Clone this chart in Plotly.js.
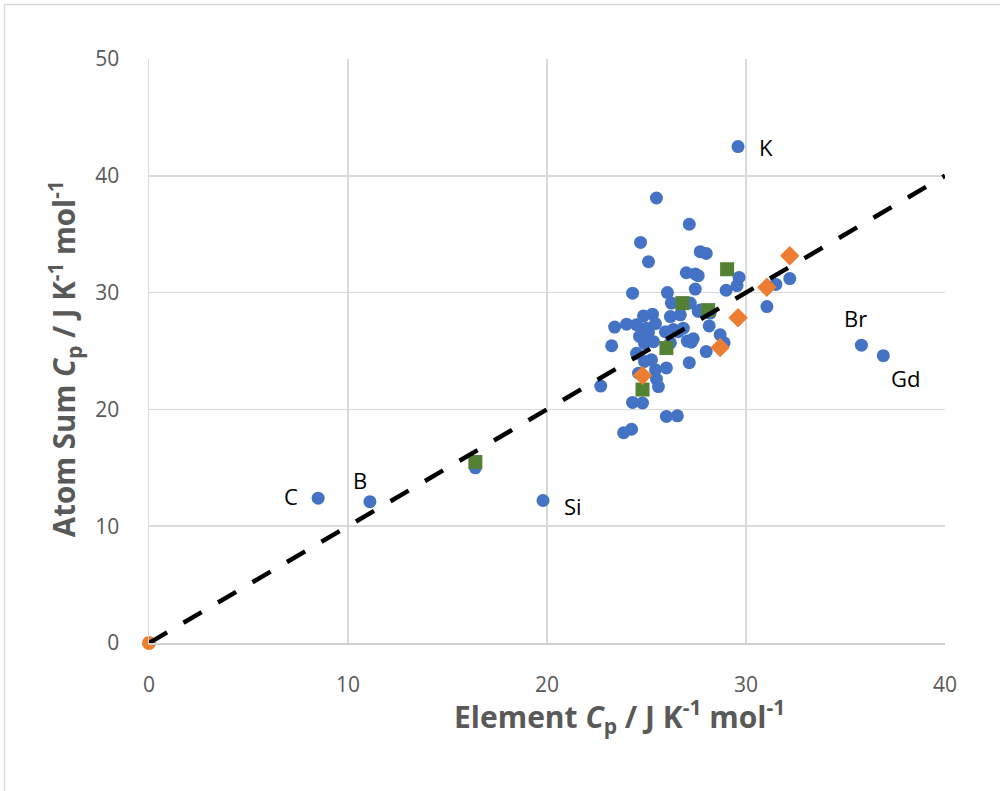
<!DOCTYPE html>
<html>
<head>
<meta charset="utf-8">
<script src="https://cdn.plot.ly/plotly-3.0.1.min.js"></script>
<style>
html,body{margin:0;padding:0;background:#fff;overflow:hidden;}
#chart{width:1000px;height:791px;}
</style>
</head>
<body>
<div id="chart"></div>
<script>
// Blue series: elements (x = element Cp, y = atom-sum Cp)
const blueX = [8.5, 11.1, 16.4, 19.8, 29.6, 35.8, 36.9, 32.2, 31.5, 31.05, 29.65, 29.55, 29.0, 28.0, 27.7, 27.15, 25.5, 24.7, 25.1,
  27.0, 27.45, 27.6, 27.45, 24.3, 26.05, 26.25, 27.2, 26.7, 27.6, 28.2, 27.7, 28.15, 28.7, 28.9, 28.0, 27.25, 27.15, 27.05, 27.35,
  26.85, 26.35, 25.95, 26.2, 26.2, 25.3, 24.85, 25.45, 25.0, 24.5, 24.0, 23.4, 23.25, 24.65, 24.9, 25.35, 24.5, 25.25, 24.9, 25.45,
  26.0, 24.6, 25.5, 25.6, 22.7, 24.3, 24.8, 26.0, 26.55, 23.85, 24.25, 25.1, 26.6];
const blueY = [12.4, 12.1, 15.0, 12.2, 42.5, 25.5, 24.6, 31.2, 30.7, 28.8, 31.3, 30.6, 30.2, 33.35, 33.5, 35.85, 38.1, 34.3, 32.65,
  31.7, 31.6, 31.45, 30.3, 29.95, 30.0, 29.1, 29.1, 28.1, 28.4, 28.25, 28.5, 27.15, 26.4, 25.7, 24.95, 25.75, 24.0, 25.85, 26.05,
  26.95, 26.85, 26.65, 25.7, 27.95, 28.15, 28.0, 27.35, 26.95, 27.25, 27.3, 27.05, 25.45, 26.25, 25.65, 25.8, 24.8, 24.25, 24.1, 23.4,
  23.55, 23.1, 22.6, 21.95, 22.0, 20.6, 20.55, 19.4, 19.45, 18.0, 18.3, 26.6, 26.65];
const blueLabels = ['C', 'B', '', 'Si', 'K', 'Br', 'Gd'];

// Green series
const greenX = [16.4, 29.05, 26.8, 28.1, 26.0, 24.8];
const greenY = [15.5, 32.0, 29.1, 28.5, 25.25, 21.7];

// Orange diamond series
const orangeX = [32.2, 31.05, 29.6, 28.7, 24.8];
const orangeY = [33.15, 30.45, 27.85, 25.3, 22.9];

// Orange origin point
const originX = [0];
const originY = [0];

// Parity line
const lineX = [0, 40];
const lineY = [0, 40];

const xTicks = [0, 10, 20, 30, 40];
const yTicks = [0, 10, 20, 30, 40, 50];

const FONT = 'Open Sans, Noto Sans, sans-serif';

// label offsets (px) relative to their points
const labelStyle = {
  'C':  {xanchor:'right', xshift:-18, yshift:2},
  'B':  {xanchor:'center', xshift:-10, yshift:22},
  'Si': {xanchor:'left', xshift:19, yshift:-5},
  'K':  {xanchor:'left', xshift:19, yshift:0},
  'Br': {xanchor:'center', xshift:-6, yshift:27},
  'Gd': {xanchor:'center', xshift:22, yshift:-22}
};

const traces = [
  {x: blueX, y: blueY, type:'scatter', mode:'markers',
   marker:{color:'#4472C4', size:13, symbol:'circle'}, hoverinfo:'skip'},
  {x: greenX, y: greenY, type:'scatter', mode:'markers',
   marker:{color:'#548235', size:14, symbol:'square'}, hoverinfo:'skip'},
  {x: orangeX, y: orangeY, type:'scatter', mode:'markers',
   marker:{color:'#ED7D31', size:15, symbol:'diamond'}, hoverinfo:'skip'},
  {x: originX, y: originY, type:'scatter', mode:'markers', cliponaxis:false,
   marker:{color:'#ED7D31', size:14, symbol:'circle'}, hoverinfo:'skip'},
  {x: lineX, y: lineY, type:'scatter', mode:'lines', cliponaxis:false,
   line:{color:'#000000', width:4.5, dash:'21px,19px'}, hoverinfo:'skip'}
];

const annotations = [];
blueLabels.forEach((t, i) => {
  if (!t) return;
  const s = labelStyle[t];
  annotations.push({x: blueX[i], y: blueY[i], xref:'x', yref:'y', text:t, showarrow:false,
    xanchor:s.xanchor, yanchor:'middle', xshift:s.xshift, yshift:s.yshift,
    font:{family:FONT, size:22, color:'#000000'}});
});

annotations.push({
  text:'<b>Element <i>C</i><sub>p</sub> / J K<sup>-1</sup> mol<sup>-1</sup></b>',
  xref:'paper', yref:'paper', x:0.5917, y:-0.125, xanchor:'center', yanchor:'middle',
  showarrow:false, font:{family:FONT, size:30, color:'#595959'}
});
annotations.push({
  text:'<b>Atom Sum <i>C</i><sub>p</sub> / J K<sup>-1</sup> mol<sup>-1</sup></b>',
  xref:'paper', yref:'paper', x:-0.106, y:0.487, xanchor:'center', yanchor:'middle',
  textangle:-90, showarrow:false, font:{family:FONT, size:29.5, color:'#595959'}
});

const layout = {
  width:1000, height:791,
  margin:{l:149, r:55, t:59, b:148, pad:0},
  paper_bgcolor:'#ffffff', plot_bgcolor:'#ffffff',
  showlegend:false,
  font:{family:FONT},
  xaxis:{range:[0,40], tickvals:xTicks, ticktext:xTicks.map(String), showgrid:true, gridcolor:'#d9d9d9', gridwidth:1.5,
    zeroline:false, showline:true, linecolor:'#d0d0d0', linewidth:1.5, ticks:'', ticklabelstandoff:22,
    tickfont:{family:FONT, size:21, color:'#595959'}, fixedrange:true},
  yaxis:{range:[0,50], tickvals:yTicks, ticktext:yTicks.map(String), showgrid:true, gridcolor:'#d9d9d9', gridwidth:1.5,
    zeroline:false, showline:true, linecolor:'#d9d9d9', linewidth:1.5, ticks:'', ticklabelstandoff:24,
    tickfont:{family:FONT, size:21, color:'#595959'}, fixedrange:true},
  annotations: annotations,
  shapes:[
    {type:'line', xref:'paper', yref:'paper', x0:-0.1815, x1:-0.1815, y0:-0.5, y1:1.0933, line:{color:'#d9d9d9', width:1.5}},
    {type:'line', xref:'paper', yref:'paper', x0:-0.1815, x1:1.2, y0:1.0933, y1:1.0933, line:{color:'#d9d9d9', width:1.5}}
  ]
};

Plotly.newPlot('chart', traces, layout, {staticPlot:true, displayModeBar:false});
</script>
</body>
</html>
